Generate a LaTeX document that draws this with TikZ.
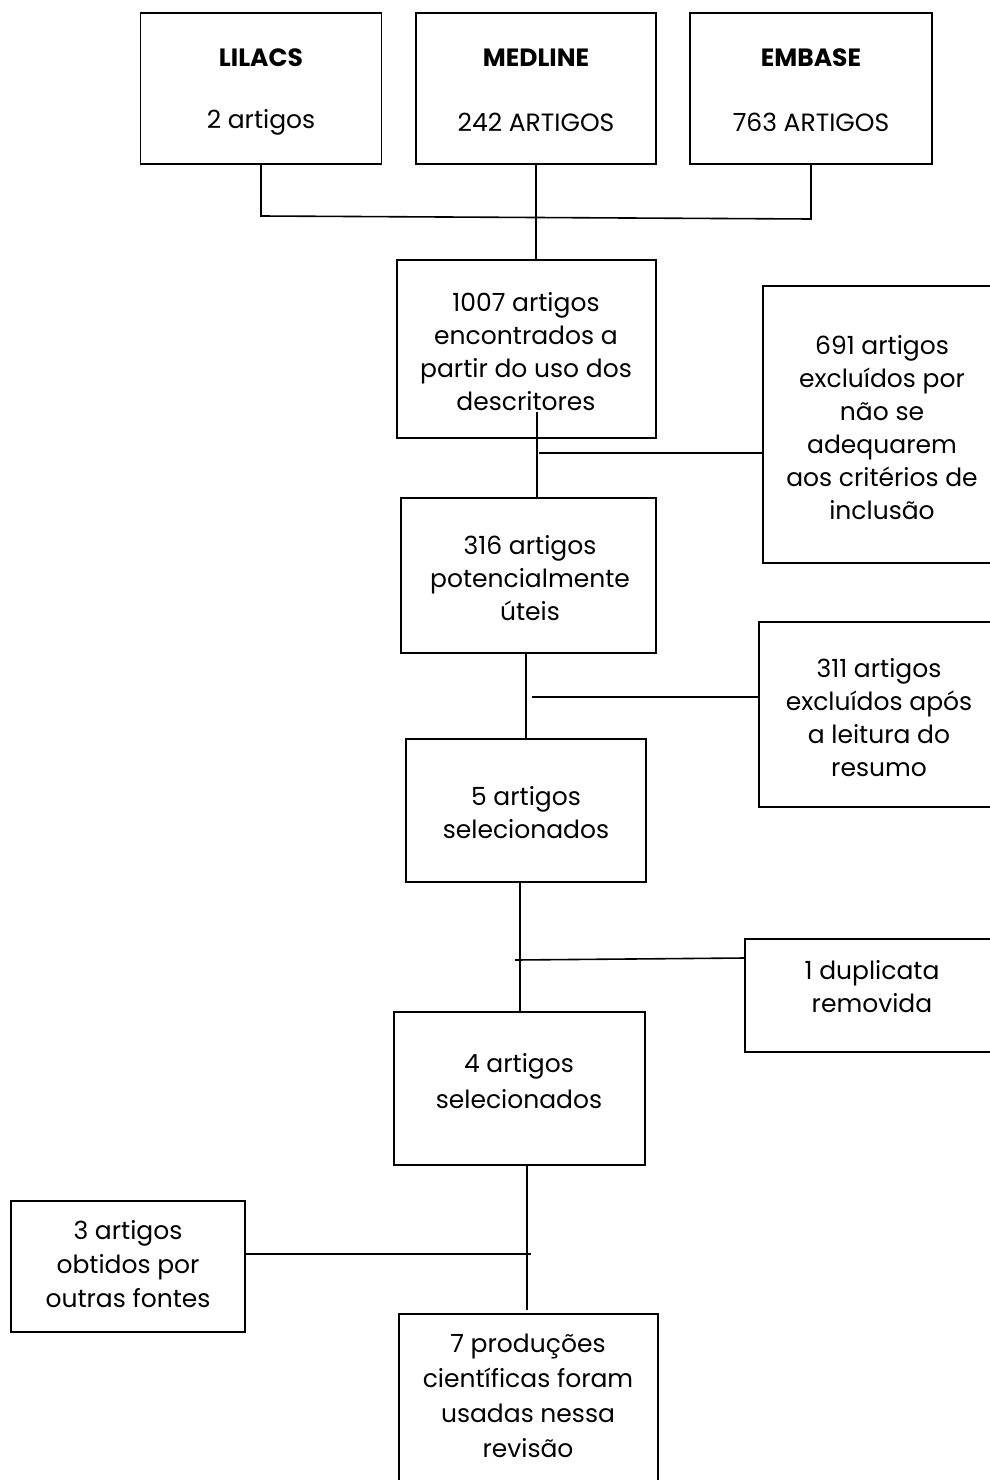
\documentclass[tikz,border=0pt]{standalone}
\usepackage{fontspec}
\setmainfont{Poppins}
\begin{document}
\begin{tikzpicture}[x=1pt,y=-1pt,
  box/.style={draw, line width=1.6pt, inner sep=0pt},
  txt/.style={align=center, inner sep=0pt, font=\fontsize{25}{34}\selectfont},
  conn/.style={line width=1.6pt}]
\useasboundingbox[fill=white] (0,0) rectangle (989,1480);
% boxes
\node[box, minimum width=241pt, minimum height=151pt] (lil) at (261,88.5) {};
\node[box, minimum width=240pt, minimum height=151pt] (med) at (536,88.5) {};
\node[box, minimum width=242pt, minimum height=151pt] (emb) at (811,88.5) {};
\node[box, minimum width=259pt, minimum height=178pt] (b1007) at (526.5,349) {};
\node[box, minimum width=238pt, minimum height=277pt] (b691) at (882,424.5) {};
\node[box, minimum width=255pt, minimum height=155pt] (b316) at (528.5,575.5) {};
\node[box, minimum width=240pt, minimum height=185pt] (b311) at (879,714.5) {};
\node[box, minimum width=240pt, minimum height=143pt] (b5) at (526,810.5) {};
\node[box, minimum width=254pt, minimum height=113pt] (bdup) at (872,995.5) {};
\node[box, minimum width=251pt, minimum height=153pt] (b4) at (519.5,1088.5) {};
\node[box, minimum width=234pt, minimum height=131pt] (b3) at (128,1266.5) {};
\node[box, minimum width=259pt, minimum height=190pt] (b7) at (528.5,1409) {};
% texts
\node[txt, font=\fontsize{25}{34}\selectfont\bfseries] (tlil) at (261,58) {LILACS};
\node[txt] (tlil2) at (261,122) {2 artigos};
\node[txt, font=\fontsize{25}{34}\selectfont\bfseries] (tmed) at (536,58) {MEDLINE};
\node[txt] (tmed2) at (536,122) {242 ARTIGOS};
\node[txt, font=\fontsize{25}{34}\selectfont\bfseries] (temb) at (811,58) {EMBASE};
\node[txt] (temb2) at (811,122) {763 ARTIGOS};
\node[txt, font=\fontsize{25}{33}\selectfont] (t1007) at (526,351.5) {1007 artigos\\encontrados a\\partir do uso dos\\descritores};
\node[txt, font=\fontsize{25}{33}\selectfont] (t691) at (882,427.5) {691 artigos\\excluídos por\\não se\\adequarem\\aos critérios de\\inclusão};
\node[txt, font=\fontsize{25}{33}\selectfont] (t316) at (530,578) {316 artigos\\potencialmente\\úteis};
\node[txt, font=\fontsize{25}{33}\selectfont] (t311) at (879,717.5) {311 artigos\\excluídos após\\a leitura do\\resumo};
\node[txt, font=\fontsize{25}{33}\selectfont] (t5) at (526,812.5) {5 artigos\\selecionados};
\node[txt, font=\fontsize{25}{33}\selectfont] (tdup) at (872,986.5) {1 duplicata\\removida};
\node[txt, font=\fontsize{25}{36}\selectfont] (t4) at (519,1081) {4 artigos\\selecionados};
\node[txt] (t3) at (128,1264) {3 artigos\\obtidos por\\outras fontes};
\node[txt, font=\fontsize{25}{35}\selectfont] (t7) at (528,1395.5) {7 produções\\científicas foram\\usadas nessa\\revisão};
% connector points
\coordinate (j1) at (261,216);
\coordinate (j2) at (811,219);
\coordinate (c1) at (537,412);
\coordinate (c2) at (539,453);
\coordinate (c3) at (526,653);
\coordinate (c4) at (532,697);
\coordinate (c5) at (520,881);
\coordinate (c6) at (515,960);
\coordinate (c8) at (527,1165);
\coordinate (c8e) at (527,1310);
\coordinate (c9) at (531,1254);
% connectors
\draw[conn] (lil.south) -- (j1) -- (j2) -- (emb.south);
\draw[conn] (med.south) -- (med.south |- b1007.north);
\draw[conn] (c1) -- (c1 |- b316.north);
\draw[conn] (c2) -- (c2 -| b691.west);
\draw[conn] (c3) -- (c3 |- b5.north);
\draw[conn] (c4) -- (c4 -| b311.west);
\draw[conn] (c5) -- (c5 |- b4.north);
\draw[conn] (c6) -- ([yshift=2pt]c6 -| bdup.west);
\draw[conn] (c8) -- (c8e);
\draw[conn] (c9) -- (c9 -| b3.east);
\end{tikzpicture}
\end{document}
